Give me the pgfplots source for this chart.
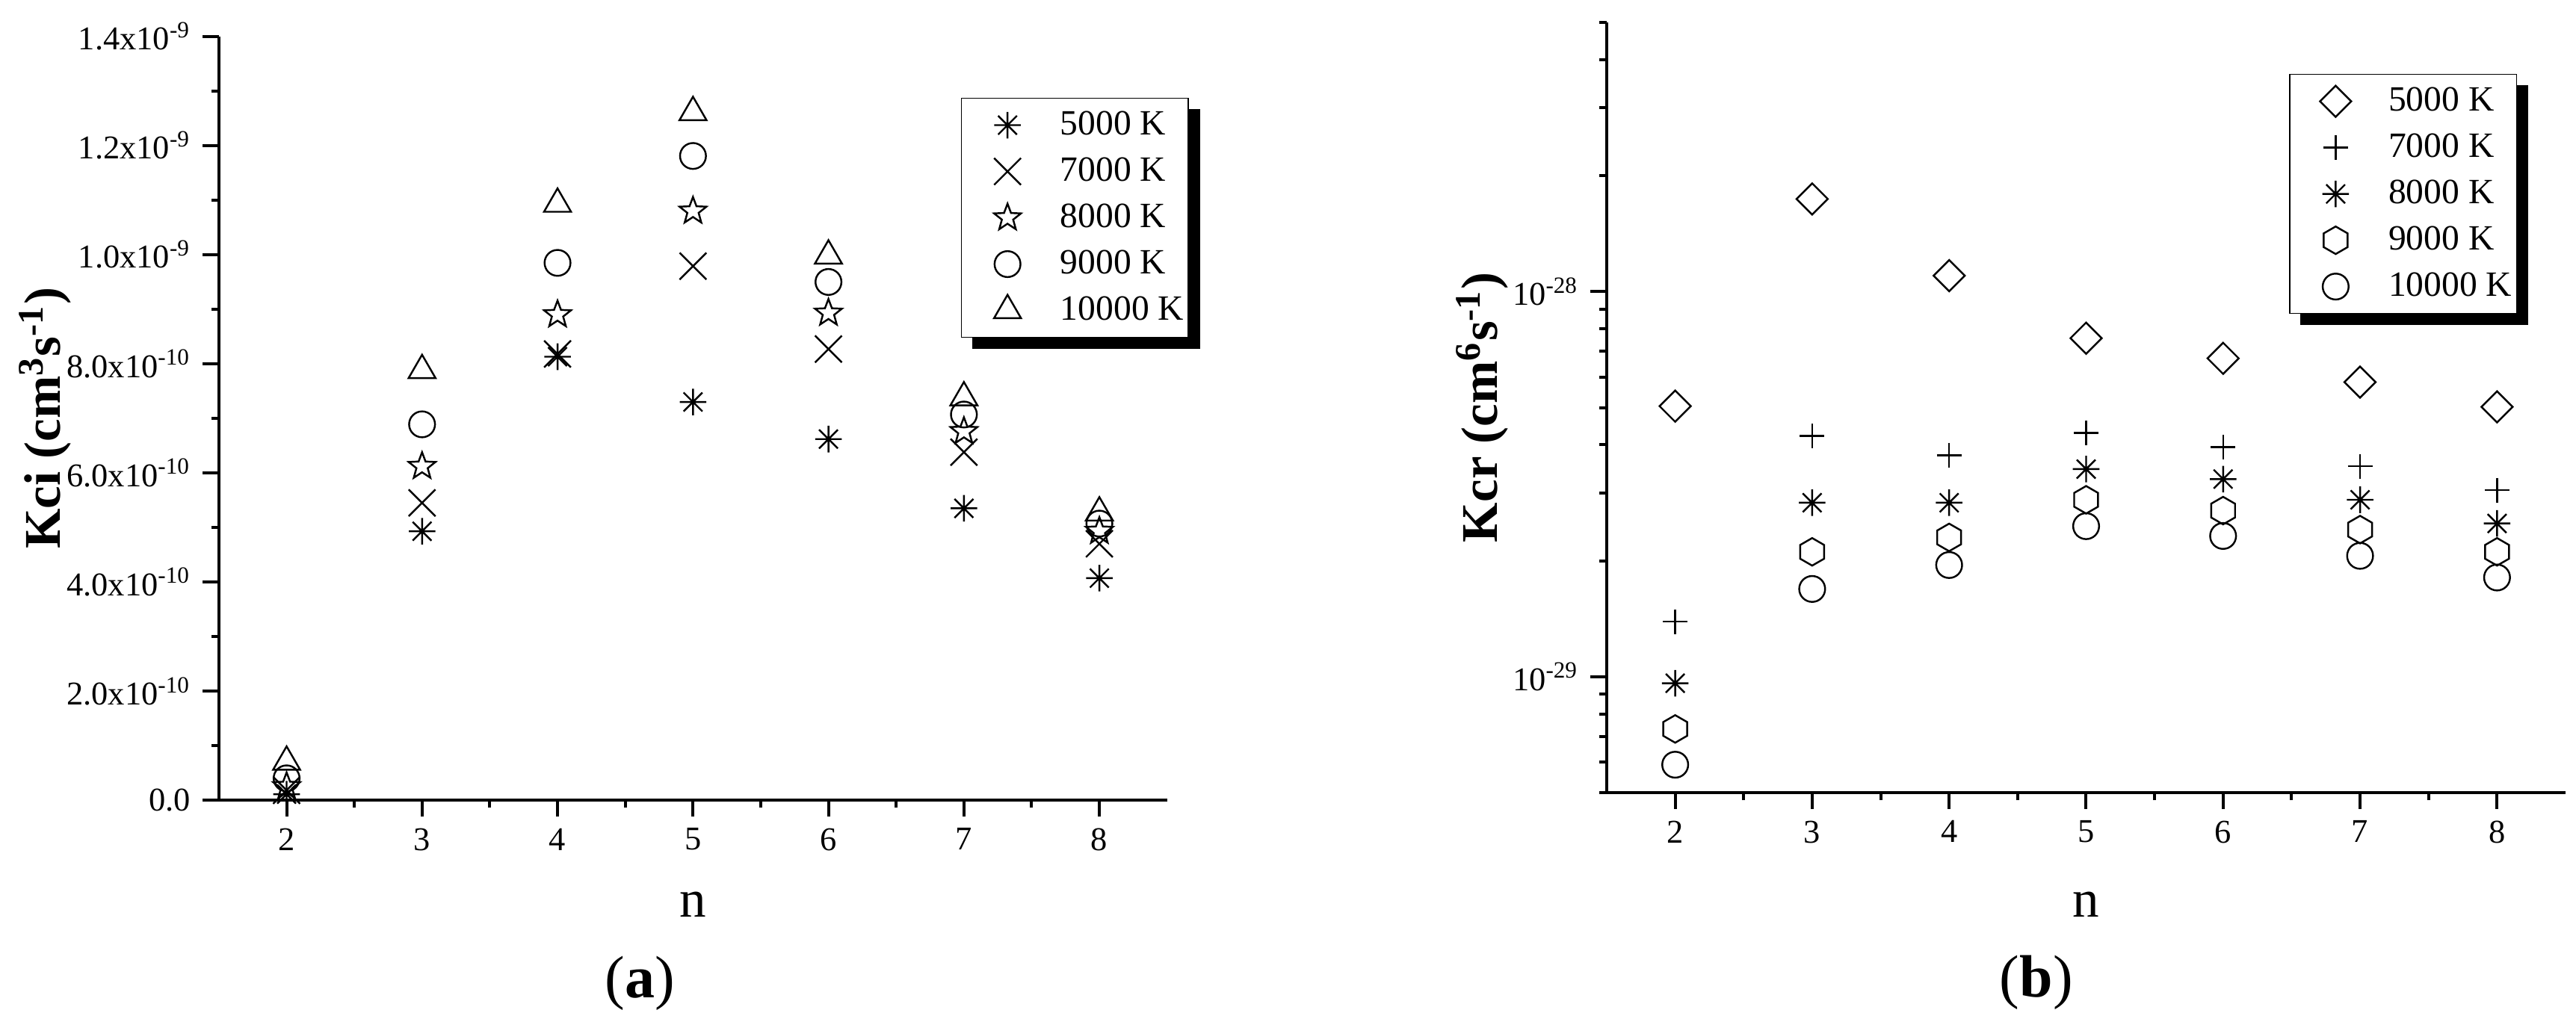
\documentclass[border=0pt]{standalone}
\usepackage{fontspec}
\setmainfont{Liberation Serif}
\usepackage{pgfplots}
\pgfplotsset{compat=1.18}
\usetikzlibrary{backgrounds}

\pgfdeclareplotmark{ast8}{%
  \pgfpathmoveto{\pgfqpoint{0pt}{\pgfplotmarksize}}\pgfpathlineto{\pgfqpoint{0pt}{-\pgfplotmarksize}}%
  \pgfpathmoveto{\pgfqpoint{\pgfplotmarksize}{0pt}}\pgfpathlineto{\pgfqpoint{-\pgfplotmarksize}{0pt}}%
  \pgfpathmoveto{\pgfqpoint{.7071\pgfplotmarksize}{.7071\pgfplotmarksize}}\pgfpathlineto{\pgfqpoint{-.7071\pgfplotmarksize}{-.7071\pgfplotmarksize}}%
  \pgfpathmoveto{\pgfqpoint{-.7071\pgfplotmarksize}{.7071\pgfplotmarksize}}\pgfpathlineto{\pgfqpoint{.7071\pgfplotmarksize}{-.7071\pgfplotmarksize}}%
  \pgfusepathqstroke}
\pgfdeclareplotmark{ostar}{%
  \pgfpathmoveto{\pgfpointpolar{90}{\pgfplotmarksize}}%
  \pgfpathlineto{\pgfpointpolar{126}{0.42\pgfplotmarksize}}%
  \pgfpathlineto{\pgfpointpolar{162}{\pgfplotmarksize}}%
  \pgfpathlineto{\pgfpointpolar{198}{0.42\pgfplotmarksize}}%
  \pgfpathlineto{\pgfpointpolar{234}{\pgfplotmarksize}}%
  \pgfpathlineto{\pgfpointpolar{270}{0.42\pgfplotmarksize}}%
  \pgfpathlineto{\pgfpointpolar{306}{\pgfplotmarksize}}%
  \pgfpathlineto{\pgfpointpolar{342}{0.42\pgfplotmarksize}}%
  \pgfpathlineto{\pgfpointpolar{18}{\pgfplotmarksize}}%
  \pgfpathlineto{\pgfpointpolar{54}{0.42\pgfplotmarksize}}%
  \pgfpathclose\pgfusepathqstroke}
\pgfdeclareplotmark{hexa}{%
  \pgfpathmoveto{\pgfpointpolar{90}{\pgfplotmarksize}}%
  \pgfpathlineto{\pgfpointpolar{150}{\pgfplotmarksize}}%
  \pgfpathlineto{\pgfpointpolar{210}{\pgfplotmarksize}}%
  \pgfpathlineto{\pgfpointpolar{270}{\pgfplotmarksize}}%
  \pgfpathlineto{\pgfpointpolar{330}{\pgfplotmarksize}}%
  \pgfpathlineto{\pgfpointpolar{30}{\pgfplotmarksize}}%
  \pgfpathclose\pgfusepathqstroke}
\pgfdeclareplotmark{sqdiamond}{%
  \pgfpathmoveto{\pgfqpoint{0pt}{\pgfplotmarksize}}%
  \pgfpathlineto{\pgfqpoint{\pgfplotmarksize}{0pt}}%
  \pgfpathlineto{\pgfqpoint{0pt}{-\pgfplotmarksize}}%
  \pgfpathlineto{\pgfqpoint{-\pgfplotmarksize}{0pt}}%
  \pgfpathclose\pgfusepathqstroke}

\pgfplotstableread{
n   T5000     T7000     T8000     T9000     T10000
2   0.11e-10  0.18e-10  0.25e-10  0.40e-10  0.70e-10
3   4.93e-10  5.45e-10  6.12e-10  6.89e-10  7.88e-10
4   8.13e-10  8.18e-10  8.90e-10  9.85e-10  10.93e-10
5   7.30e-10  9.79e-10  10.80e-10 11.81e-10 12.61e-10
6   6.62e-10  8.27e-10  8.93e-10  9.50e-10  9.98e-10
7   5.35e-10  6.38e-10  6.76e-10  7.07e-10  7.38e-10
8   4.07e-10  4.70e-10  4.93e-10  5.07e-10  5.27e-10
}\kci

\pgfplotstableread{
n   T5000     T7000     T8000     T9000     T10000
2   5.04e-29  1.39e-29  9.62e-30  7.32e-30  5.91e-30
3   1.74e-28  4.22e-29  2.83e-29  2.11e-29  1.69e-29
4   1.10e-28  3.76e-29  2.83e-29  2.30e-29  1.95e-29
5   7.57e-29  4.30e-29  3.46e-29  2.88e-29  2.46e-29
6   6.71e-29  3.95e-29  3.26e-29  2.70e-29  2.32e-29
7   5.82e-29  3.52e-29  2.88e-29  2.41e-29  2.06e-29
8   5.02e-29  3.05e-29  2.50e-29  2.11e-29  1.81e-29
}\kcr

\pgfplotsset{
  myaxis/.style={
    scale only axis,
    axis x line*=bottom, axis y line*=left,
    axis line style={line width=0.9pt,-},
    tick align=outside,
    major tick length=4.95pt, minor tick length=2.25pt,
    every tick/.style={line width=0.9pt, black},
    xmin=1.5, xmax=8.5, xtick={2,...,8}, minor x tick num=1,
    tick label style={font=\fontsize{10}{12}\selectfont},
    /pgf/number format/assume math mode=true,
    xlabel style={font=\fontsize{16}{18}\selectfont},
    ylabel style={font=\fontsize{15.5}{18}\selectfont},
    clip=false,
    legend cell align=left,
  },
  mylegend/.style={legend image code/.code={%
      \path (-12.35pt,-6.8pt) (15.75pt,6.8pt);
      \draw[##1] plot coordinates {(0pt,0pt)};}},
  mk/.style={black, only marks, mark options={solid, line width=0.55pt}, mylegend},
  legbox/.style={
    draw=black, line width=0.35pt, fill=white,
    inner xsep=1.35pt, inner ysep=1.1pt,
    row sep=0pt, column sep=0pt,
    nodes={inner sep=0pt, font=\fontsize{10.7}{12}\selectfont},
  },
}

\begin{document}
\begin{tikzpicture}
\path[use as bounding box] (0,0) rectangle (775.6pt,305.1pt);

\begin{axis}[myaxis,
  at={(65.9pt,64.1pt)}, anchor=south west,
  width=285.5pt, height=230.0pt,
  ymin=0, ymax=1.4e-9,
  ytick={0,2e-10,4e-10,6e-10,8e-10,1e-9,1.2e-9,1.4e-9},
  yticklabels={0.0, 2.0x10\textsuperscript{-10}, 4.0x10\textsuperscript{-10}, 6.0x10\textsuperscript{-10}, 8.0x10\textsuperscript{-10}, 1.0x10\textsuperscript{-9}, 1.2x10\textsuperscript{-9}, 1.4x10\textsuperscript{-9}},
  minor y tick num=1, scaled y ticks=false,
  xlabel={n},
  ylabel={\textbf{Kci (cm\textsuperscript{3}s\textsuperscript{-1})}},
  xlabel style={at={(axis description cs:0.5,-0.137)}, anchor=center},
  ylabel style={at={(axis description cs:-0.183,0.5)}, anchor=center},
  legend style={legbox, name=legA, at={(0.7825,0.9198)}, anchor=north west},
]
\addplot[mk, mark=ast8, mark size=4.0pt] table[x=n, y=T5000] {\kci};
\addplot[mk, mark=x, mark size=5.7pt] table[x=n, y=T7000] {\kci};
\addplot[mk, mark=ostar, mark size=4.25pt] table[x=n, y=T8000] {\kci};
\addplot[mk, mark=o, mark size=3.9pt] table[x=n, y=T9000] {\kci};
\addplot[mk, mark=triangle, mark size=4.7pt] table[x=n, y=T10000] {\kci};
\legend{5000 K, 7000 K, 8000 K, 9000 K, 10000 K}
\node[font=\fontsize{18}{20}\selectfont] at (axis description cs:0.444,-0.240) {(\textbf{a})};
\end{axis}

\begin{axis}[myaxis,
  at={(483.75pt,66.4pt)}, anchor=south west,
  width=288.7pt, height=232.0pt,
  ymode=log, ymin=5e-30, ymax=5e-28,
  ytick={1e-29,1e-28},
  yticklabels={10\textsuperscript{-29}, 10\textsuperscript{-28}},
  minor ytick={5e-30,6e-30,7e-30,8e-30,9e-30,2e-29,3e-29,4e-29,5e-29,6e-29,7e-29,8e-29,9e-29,2e-28,3e-28,4e-28,5e-28},
  xlabel={n},
  ylabel={\textbf{Kcr (cm\textsuperscript{6}s\textsuperscript{-1})}},
  xlabel style={at={(axis description cs:0.5,-0.1455)}, anchor=center},
  ylabel style={at={(axis description cs:-0.130,0.5)}, anchor=center},
  legend style={legbox, name=legB, at={(0.7116,0.9331)}, anchor=north west},
]
\addplot[mk, mark=sqdiamond, mark size=4.7pt] table[x=n, y=T5000] {\kcr};
\addplot[mk, mark=+, mark size=3.7pt] table[x=n, y=T7000] {\kcr};
\addplot[mk, mark=ast8, mark size=4.0pt] table[x=n, y=T8000] {\kcr};
\addplot[mk, mark=hexa, mark size=4.15pt] table[x=n, y=T9000] {\kcr};
\addplot[mk, mark=o, mark size=3.9pt] table[x=n, y=T10000] {\kcr};
\legend{5000 K, 7000 K, 8000 K, 9000 K, 10000 K}
\node[font=\fontsize{18}{20}\selectfont] at (axis description cs:0.448,-0.247) {(\textbf{b})};
\end{axis}

\begin{pgfonlayer}{background}
\fill[black] ([shift={(3.4pt,-3.4pt)}]legA.south west) rectangle ([shift={(3.4pt,-3.4pt)}]legA.north east);
\fill[black] ([shift={(3.4pt,-3.4pt)}]legB.south west) rectangle ([shift={(3.4pt,-3.4pt)}]legB.north east);
\end{pgfonlayer}
\end{tikzpicture}
\end{document}
